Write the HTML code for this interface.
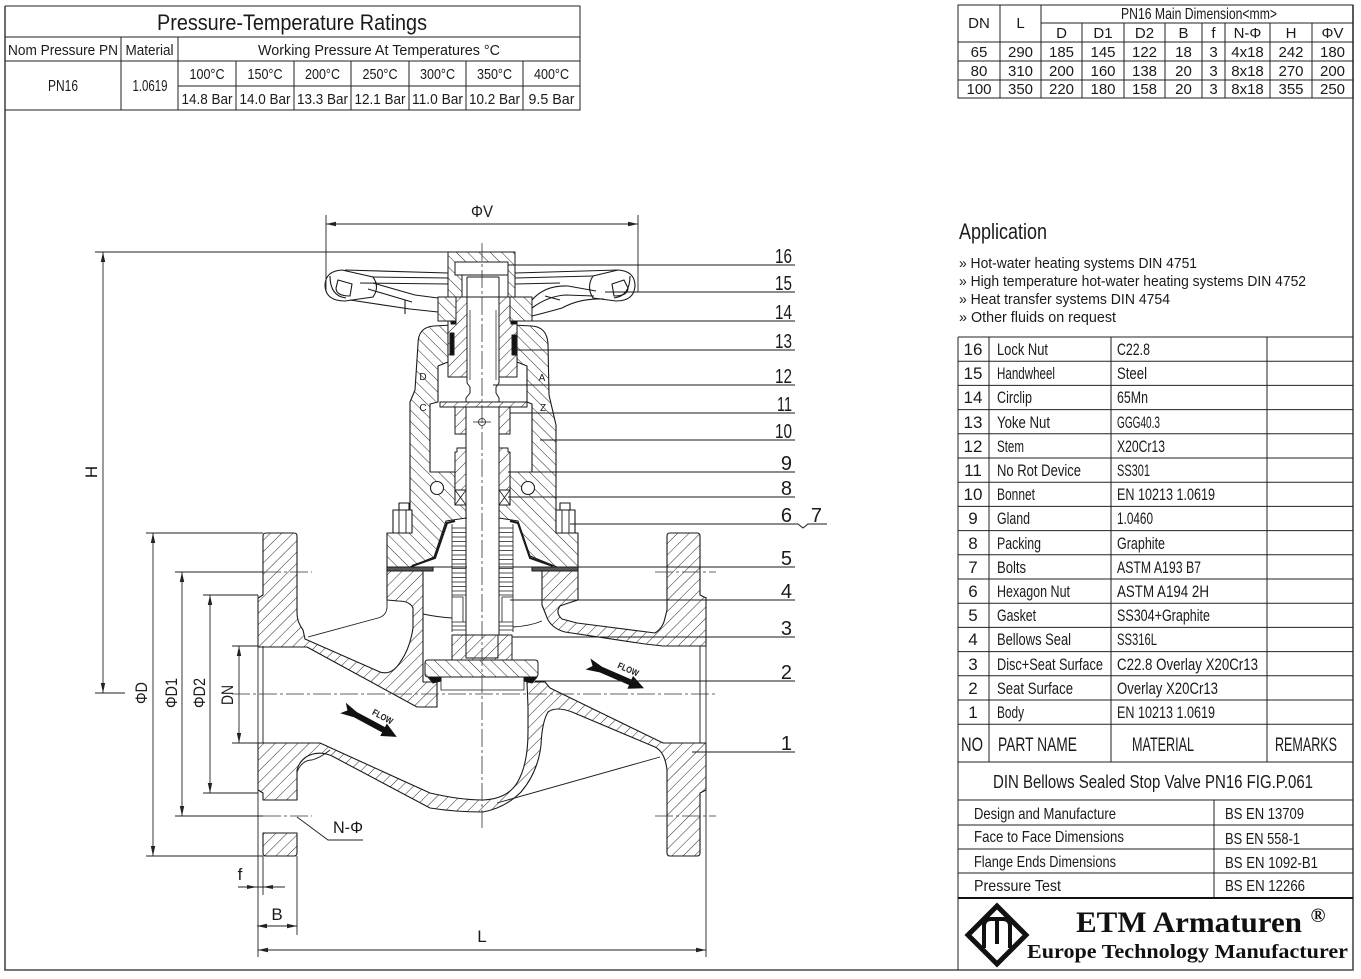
<!DOCTYPE html>
<html><head><meta charset="utf-8">
<style>
html,body{margin:0;padding:0;background:#fff;}
svg{display:block;}
text{font-family:"Liberation Sans",Arial,sans-serif;fill:#1a1a1a;}
.s{font-family:"Liberation Serif",serif;font-weight:bold;fill:#111;}
</style></head><body>
<svg width="1361" height="979" viewBox="0 0 1361 979" xmlns="http://www.w3.org/2000/svg">
<defs>
<pattern id="hf" patternUnits="userSpaceOnUse" width="8" height="8" patternTransform="rotate(45)"><rect width="8" height="8" fill="#fff"/><line x1="0" y1="-1" x2="0" y2="9" stroke="#2a2a2a" stroke-width="1"/></pattern>
<pattern id="hb" patternUnits="userSpaceOnUse" width="8" height="8" patternTransform="rotate(-45)"><rect width="8" height="8" fill="#fff"/><line x1="0" y1="-1" x2="0" y2="9" stroke="#2a2a2a" stroke-width="1"/></pattern>
<marker id="a" viewBox="0 0 10 6" refX="10" refY="3" markerWidth="10" markerHeight="6" markerUnits="userSpaceOnUse" orient="auto-start-reverse"><path d="M0,0.8 L10,3 L0,5.2 Z" fill="#222"/></marker>
</defs>

<!-- ===== FRAME ===== -->
<path d="M5,6 V970 H1353 V5" fill="none" stroke="#4a4a4a" stroke-width="1.6"/>

<!-- ===== PRESSURE TABLE ===== -->
<g stroke="#222" stroke-width="1" fill="none">
<path d="M5,6 H580 V110 H5"/>
<path d="M5,37 H580 M5,61 H580 M178,86 H580"/>
<path d="M121,37 V110 M178,37 V110 M236,61 V110 M294,61 V110 M351,61 V110 M409,61 V110 M466,61 V110 M523,61 V110"/>
</g>
<text x="292" y="30" font-size="22" text-anchor="middle" textLength="270" lengthAdjust="spacingAndGlyphs">Pressure-Temperature Ratings</text>
<g font-size="15" text-anchor="middle">
<text x="63" y="55" textLength="110" lengthAdjust="spacingAndGlyphs">Nom Pressure PN</text>
<text x="149.5" y="55" textLength="48" lengthAdjust="spacingAndGlyphs">Material</text>
<text x="379" y="55" textLength="242" lengthAdjust="spacingAndGlyphs">Working Pressure At Temperatures °C</text>
<text x="63" y="91" font-size="16" textLength="30" lengthAdjust="spacingAndGlyphs">PN16</text>
<text x="150" y="91" font-size="16" textLength="35" lengthAdjust="spacingAndGlyphs">1.0619</text>
<text x="207" y="79" textLength="35" lengthAdjust="spacingAndGlyphs">100°C</text>
<text x="265" y="79" textLength="35" lengthAdjust="spacingAndGlyphs">150°C</text>
<text x="322.5" y="79" textLength="35" lengthAdjust="spacingAndGlyphs">200°C</text>
<text x="380" y="79" textLength="35" lengthAdjust="spacingAndGlyphs">250°C</text>
<text x="437.5" y="79" textLength="35" lengthAdjust="spacingAndGlyphs">300°C</text>
<text x="494.5" y="79" textLength="35" lengthAdjust="spacingAndGlyphs">350°C</text>
<text x="551.5" y="79" textLength="35" lengthAdjust="spacingAndGlyphs">400°C</text>
<text x="207" y="104" textLength="51" lengthAdjust="spacingAndGlyphs">14.8 Bar</text>
<text x="265" y="104" textLength="51" lengthAdjust="spacingAndGlyphs">14.0 Bar</text>
<text x="322.5" y="104" textLength="51" lengthAdjust="spacingAndGlyphs">13.3 Bar</text>
<text x="380" y="104" textLength="51" lengthAdjust="spacingAndGlyphs">12.1 Bar</text>
<text x="437.5" y="104" textLength="51" lengthAdjust="spacingAndGlyphs">11.0 Bar</text>
<text x="494.5" y="104" textLength="51" lengthAdjust="spacingAndGlyphs">10.2 Bar</text>
<text x="551.5" y="104" textLength="46" lengthAdjust="spacingAndGlyphs">9.5 Bar</text>
</g>

<!-- ===== DIMENSION TABLE ===== -->
<g stroke="#222" stroke-width="1" fill="none">
<rect x="958" y="5" width="395" height="93"/>
<path d="M1041,23 H1353 M958,42 H1353 M958,61 H1353 M958,80 H1353"/>
<path d="M1000,5 V98 M1041,5 V98 M1082,23 V98 M1124,23 V98 M1165,23 V98 M1202,23 V98 M1225,23 V98 M1270,23 V98 M1312,23 V98"/>
</g>
<g font-size="15" text-anchor="middle">
<text x="979" y="28">DN</text>
<text x="1020.5" y="28">L</text>
<text x="1199" y="19" font-size="16" textLength="156" lengthAdjust="spacingAndGlyphs">PN16 Main Dimension&lt;mm&gt;</text>
<text x="1061.5" y="38">D</text><text x="1103" y="38">D1</text><text x="1144.5" y="38">D2</text><text x="1183.5" y="38">B</text><text x="1213.5" y="38">f</text><text x="1247.5" y="38">N-Φ</text><text x="1291" y="38">H</text><text x="1332.5" y="38">ΦV</text>
<text x="979" y="57">65</text><text x="1020.5" y="57">290</text><text x="1061.5" y="57">185</text><text x="1103" y="57">145</text><text x="1144.5" y="57">122</text><text x="1183.5" y="57">18</text><text x="1213.5" y="57">3</text><text x="1247.5" y="57">4x18</text><text x="1291" y="57">242</text><text x="1332.5" y="57">180</text>
<text x="979" y="76">80</text><text x="1020.5" y="76">310</text><text x="1061.5" y="76">200</text><text x="1103" y="76">160</text><text x="1144.5" y="76">138</text><text x="1183.5" y="76">20</text><text x="1213.5" y="76">3</text><text x="1247.5" y="76">8x18</text><text x="1291" y="76">270</text><text x="1332.5" y="76">200</text>
<text x="979" y="94">100</text><text x="1020.5" y="94">350</text><text x="1061.5" y="94">220</text><text x="1103" y="94">180</text><text x="1144.5" y="94">158</text><text x="1183.5" y="94">20</text><text x="1213.5" y="94">3</text><text x="1247.5" y="94">8x18</text><text x="1291" y="94">355</text><text x="1332.5" y="94">250</text>
</g>

<!-- ===== APPLICATION ===== -->
<text x="959" y="239" font-size="22" textLength="88" lengthAdjust="spacingAndGlyphs">Application</text>
<g font-size="15">
<text x="959" y="268" textLength="238" lengthAdjust="spacingAndGlyphs">» Hot-water heating systems DIN 4751</text>
<text x="959" y="286" textLength="347" lengthAdjust="spacingAndGlyphs">» High temperature hot-water heating systems DIN 4752</text>
<text x="959" y="304" textLength="211" lengthAdjust="spacingAndGlyphs">» Heat transfer systems DIN 4754</text>
<text x="959" y="322" textLength="157" lengthAdjust="spacingAndGlyphs">» Other fluids on request</text>
</g>

<!-- ===== PARTS TABLE ===== -->
<g stroke="#222" stroke-width="1" fill="none">
<path d="M958,337 H1353 M958,337 V970"/>
<path d="M958,361.2 H1353 M958,385.4 H1353 M958,409.6 H1353 M958,433.8 H1353 M958,458 H1353 M958,482.2 H1353 M958,506.4 H1353 M958,530.6 H1353 M958,554.8 H1353 M958,579 H1353 M958,603.2 H1353 M958,627.4 H1353 M958,651.6 H1353 M958,675.8 H1353 M958,700 H1353 M958,724.2 H1353 M958,762 H1353 M958,800 H1353 M958,825 H1353 M958,849 H1353 M958,873 H1353"/>
<path d="M989,337 V762 M1111,337 V762 M1267,337 V762 M1214,800 V898"/>
</g>
<path d="M958,898 H1353" stroke="#111" stroke-width="2"/>
<g font-size="17">
<g text-anchor="middle">
<text x="973" y="355">16</text><text x="973" y="379">15</text><text x="973" y="403">14</text><text x="973" y="428">13</text><text x="973" y="452">12</text><text x="973" y="476">11</text><text x="973" y="500">10</text><text x="973" y="524">9</text><text x="973" y="549">8</text><text x="973" y="573">7</text><text x="973" y="597">6</text><text x="973" y="621">5</text><text x="973" y="645">4</text><text x="973" y="670">3</text><text x="973" y="694">2</text><text x="973" y="718">1</text>
</g>
<text x="997" y="355" textLength="51" lengthAdjust="spacingAndGlyphs">Lock Nut</text>
<text x="997" y="379" textLength="58" lengthAdjust="spacingAndGlyphs">Handwheel</text>
<text x="997" y="403" textLength="35" lengthAdjust="spacingAndGlyphs">Circlip</text>
<text x="997" y="428" textLength="53" lengthAdjust="spacingAndGlyphs">Yoke Nut</text>
<text x="997" y="452" textLength="27" lengthAdjust="spacingAndGlyphs">Stem</text>
<text x="997" y="476" textLength="84" lengthAdjust="spacingAndGlyphs">No Rot Device</text>
<text x="997" y="500" textLength="38" lengthAdjust="spacingAndGlyphs">Bonnet</text>
<text x="997" y="524" textLength="33" lengthAdjust="spacingAndGlyphs">Gland</text>
<text x="997" y="549" textLength="44" lengthAdjust="spacingAndGlyphs">Packing</text>
<text x="997" y="573" textLength="29" lengthAdjust="spacingAndGlyphs">Bolts</text>
<text x="997" y="597" textLength="73" lengthAdjust="spacingAndGlyphs">Hexagon Nut</text>
<text x="997" y="621" textLength="39" lengthAdjust="spacingAndGlyphs">Gasket</text>
<text x="997" y="645" textLength="74" lengthAdjust="spacingAndGlyphs">Bellows Seal</text>
<text x="997" y="670" textLength="106" lengthAdjust="spacingAndGlyphs">Disc+Seat Surface</text>
<text x="997" y="694" textLength="76" lengthAdjust="spacingAndGlyphs">Seat Surface</text>
<text x="997" y="718" textLength="27" lengthAdjust="spacingAndGlyphs">Body</text>
<text x="1117" y="355" textLength="33" lengthAdjust="spacingAndGlyphs">C22.8</text>
<text x="1117" y="379" textLength="30" lengthAdjust="spacingAndGlyphs">Steel</text>
<text x="1117" y="403" textLength="31" lengthAdjust="spacingAndGlyphs">65Mn</text>
<text x="1117" y="428" textLength="43" lengthAdjust="spacingAndGlyphs">GGG40.3</text>
<text x="1117" y="452" textLength="48" lengthAdjust="spacingAndGlyphs">X20Cr13</text>
<text x="1117" y="476" textLength="33" lengthAdjust="spacingAndGlyphs">SS301</text>
<text x="1117" y="500" textLength="98" lengthAdjust="spacingAndGlyphs">EN 10213 1.0619</text>
<text x="1117" y="524" textLength="36" lengthAdjust="spacingAndGlyphs">1.0460</text>
<text x="1117" y="549" textLength="48" lengthAdjust="spacingAndGlyphs">Graphite</text>
<text x="1117" y="573" textLength="84" lengthAdjust="spacingAndGlyphs">ASTM A193 B7</text>
<text x="1117" y="597" textLength="92" lengthAdjust="spacingAndGlyphs">ASTM A194 2H</text>
<text x="1117" y="621" textLength="93" lengthAdjust="spacingAndGlyphs">SS304+Graphite</text>
<text x="1117" y="645" textLength="40" lengthAdjust="spacingAndGlyphs">SS316L</text>
<text x="1117" y="670" textLength="141" lengthAdjust="spacingAndGlyphs">C22.8 Overlay X20Cr13</text>
<text x="1117" y="694" textLength="101" lengthAdjust="spacingAndGlyphs">Overlay X20Cr13</text>
<text x="1117" y="718" textLength="98" lengthAdjust="spacingAndGlyphs">EN 10213 1.0619</text>
</g>
<g font-size="19">
<text x="961" y="751" textLength="22" lengthAdjust="spacingAndGlyphs">NO</text>
<text x="998" y="751" textLength="79" lengthAdjust="spacingAndGlyphs">PART NAME</text>
<text x="1132" y="751" textLength="62" lengthAdjust="spacingAndGlyphs">MATERIAL</text>
<text x="1275" y="751" textLength="62" lengthAdjust="spacingAndGlyphs">REMARKS</text>
</g>
<text x="993" y="788" font-size="18" textLength="320" lengthAdjust="spacingAndGlyphs">DIN Bellows Sealed Stop Valve PN16 FIG.P.061</text>
<g font-size="16">
<text x="974" y="819" textLength="142" lengthAdjust="spacingAndGlyphs">Design and Manufacture</text>
<text x="974" y="842" textLength="150" lengthAdjust="spacingAndGlyphs">Face to Face Dimensions</text>
<text x="974" y="867" textLength="142" lengthAdjust="spacingAndGlyphs">Flange Ends Dimensions</text>
<text x="974" y="891" textLength="87" lengthAdjust="spacingAndGlyphs">Pressure Test</text>
<text x="1225" y="819" textLength="79" lengthAdjust="spacingAndGlyphs">BS EN 13709</text>
<text x="1225" y="844" textLength="75" lengthAdjust="spacingAndGlyphs">BS EN 558-1</text>
<text x="1225" y="868" textLength="93" lengthAdjust="spacingAndGlyphs">BS EN 1092-B1</text>
<text x="1225" y="891" textLength="80" lengthAdjust="spacingAndGlyphs">BS EN 12266</text>
</g>
<!-- logo -->
<polygon points="997,906 1026,935 997,964 968,935" fill="none" stroke="#111" stroke-width="5"/>
<path d="M984,948 V926 Q984,919 991,919 H1003 Q1010,919 1010,926 V948 M997,919 V944" fill="none" stroke="#111" stroke-width="4"/>
<text class="s" x="1076" y="932" font-size="30" textLength="226" lengthAdjust="spacingAndGlyphs">ETM Armaturen</text>
<text class="s" x="1318" y="922" font-size="20" text-anchor="middle">®</text>
<text class="s" x="1027" y="958" font-size="20" textLength="321" lengthAdjust="spacingAndGlyphs">Europe Technology Manufacturer</text>

<!-- ===== VALVE DRAWING ===== -->
<g stroke="#1a1a1a" stroke-width="1.1" stroke-linejoin="round">
<!-- body -->
<path fill="url(#hf)" d="M258,598 L263,595 L263,536 Q263,533 266,533 L294,533 Q297,533 297,536 L297,613 Q297,622 303,630 L305,639 L380,672 Q392,676 401,661 Q410,648 413,628 L413,608 Q410,601 398,601 L387,600 L387,571 L423,571 L423,682 L437,682 L437,707 L417,707 L307,647 L258,647 Z"/>
<path fill="url(#hf)" d="M258,743 L320,743 L430,793 Q460,800 483,800 Q507,799 517,783 Q528,765 528,732 L528,707 L527,682 L545,682 L550,688 L663,743 L706,743 L706,790 L700,793 L700,853 Q700,856 697,856 L670,856 Q667,856 667,853 L667,770 Q665,752 655,747 L572,712 Q556,706 548,712 Q542,722 541,745 Q538,772 521,792 Q505,808 483,812 Q455,812 430,808 L332,756 Q318,750 306,757 Q299,762 297,770 L297,800 L263,800 L263,793 L258,790 Z"/>
<path fill="url(#hf)" d="M263,833 L297,833 L297,853 Q297,856 294,856 L266,856 Q263,856 263,853 Z"/>
<path fill="url(#hf)" d="M670,533 L697,533 Q700,533 700,536 L700,595 L706,598 L706,646 L663,646 L645,644 L565,632 Q550,628 546,615 L542,605 L542,571 L578,571 L578,600 Q568,603 560,606 Q555,613 562,619 L577,623 L655,633 Q663,628 665,618 L667,610 L667,536 Q667,533 670,533 Z"/>
<!-- bonnet -->
<path fill="url(#hb)" d="M452,325 L434,326 Q418,327 418,344 L415,390 L410,402 L410,533 L387,533 L387,567 L578,567 L578,533 L556,533 L556,425 L549,395 L548,344 Q547,327 532,326 L513,325 Z"/>
<path fill="#fff" d="M448,325 H517 V362 L527,366 V402 L532,404 V472 H510 V505 H499 V518 H466 V505 H455 V472 H430 V404 L438,402 V366 L448,362 Z"/>
<path fill="#fff" d="M466,518 H499 L518,521 L530,556 L557,567 H410 L434,557 L446,521 Z"/>
<circle cx="437" cy="488" r="6.5" fill="#fff"/>
<circle cx="528" cy="488" r="6.5" fill="#fff"/>
<!-- gasket -->
<rect x="387" y="567" width="46" height="4" fill="#555"/>
<rect x="532" y="567" width="46" height="4" fill="#555"/>
<!-- bolts / nuts -->
<rect x="393" y="510" width="19" height="23" fill="#fff"/>
<rect x="399" y="503" width="10" height="7" fill="#fff"/>
<rect x="556" y="510" width="19" height="23" fill="#fff"/>
<rect x="560" y="503" width="10" height="7" fill="#fff"/>
</g>
<g stroke="#1a1a1a" stroke-width="0.9" fill="none">
<path d="M399,510 V533 M406,510 V533 M562,510 V533 M569,510 V533"/>
<!-- cone cover -->
<path d="M412,566 L435,558 L447,523 L455,521 M553,566 L530,558 L518,523 L510,521" stroke-width="2"/>
<!-- silhouettes -->
<path d="M387,600 L387,608 Q386,616 378,618 L308,637"/>
<path d="M497,803 L660,757"/>
<path d="M297,772 Q302,760 312,760 Q320,758 330,750"/>
<path d="M423,614 Q437,617 452,618 M513,627 Q530,626 542,621"/>
<path d="M263,646 V743 M700,646 V743"/>
</g>

<g stroke="#1a1a1a" stroke-width="1" stroke-linejoin="round">
<!-- stem -->
<rect x="467" y="277" width="32" height="359" fill="#fff" stroke="none"/>
<path fill="none" d="M467,277 V383 L470,387 V393 L466,398 V636 M499,277 V383 L496,387 V393 L499,398 V636"/>
<path fill="none" stroke-width="0.7" d="M470,310 V380 M496,310 V380"/>
<!-- lock nut -->
<path fill="url(#hb)" fill-rule="evenodd" d="M448,252 H515 V297 H448 Z M455,262 H508 V297 H462 V275 H455 Z"/>
<path fill="none" d="M467,277 H499 M462,275 H508"/>
<!-- hub -->
<rect x="438" y="297" width="18" height="24" fill="url(#hb)"/>
<rect x="510" y="297" width="22" height="24" fill="url(#hb)"/>
<!-- yoke nut -->
<path fill="url(#hf)" d="M456,297 H467 V377 H448 V321 H456 Z"/>
<path fill="url(#hf)" d="M499,297 H510 V321 H517 V377 H499 Z"/>
<rect x="451" y="321" width="5" height="3" fill="#111"/>
<rect x="511" y="321" width="5" height="3" fill="#111"/>
<rect x="450" y="333" width="4" height="22" fill="#111"/>
<rect x="512" y="335" width="4" height="20" fill="#111"/>
<!-- anti rotation -->
<rect x="440" y="402" width="87" height="5" fill="url(#hf)"/>
<rect x="455" y="407" width="11" height="27" fill="url(#hf)"/>
<rect x="499" y="407" width="11" height="27" fill="url(#hf)"/>
<!-- gland -->
<path fill="url(#hf)" d="M457,448 H466 V490 H455 V452 H457 Z"/>
<path fill="url(#hf)" d="M499,448 H508 V452 H510 V490 H499 Z"/>
<!-- packing -->
<path fill="#fff" d="M455,490 H466 V505 H455 Z M499,490 H510 V505 H499 Z"/>
<path fill="none" stroke-width="0.8" d="M455,490 L466,505 M466,490 L455,505 M499,490 L510,505 M510,490 L499,505"/>
<!-- bellows -->
<path fill="none" stroke-width="0.8" d="M452,524 V632 M466,524 V632 M499,524 V632 M513,524 V632
M452,528 H466 M452,532.5 H466 M452,537 H466 M452,541.5 H466 M452,546 H466 M452,550.5 H466 M452,555 H466 M452,559.5 H466 M452,564 H466 M452,568.5 H466 M452,573 H466 M452,577.5 H466 M452,582 H466 M452,586.5 H466 M452,591 H466 M452,595 H466 M452,622 H466 M452,626 H466 M452,630 H466
M499,528 H513 M499,532.5 H513 M499,537 H513 M499,541.5 H513 M499,546 H513 M499,550.5 H513 M499,555 H513 M499,559.5 H513 M499,564 H513 M499,568.5 H513 M499,573 H513 M499,577.5 H513 M499,582 H513 M499,586.5 H513 M499,591 H513 M499,595 H513 M499,622 H513 M499,626 H513 M499,630 H513
M452,597 H463 V622 M502,597 H513 M502,597 V622"/>
<!-- disc holder -->
<rect x="452" y="635" width="60" height="25" fill="url(#hf)"/>
<rect x="466" y="635" width="32" height="23" fill="url(#hf)"/>
<path d="M428,660 H535 Q538,660 538,663 V674 Q538,677 535,677 H428 Q425,677 425,674 V663 Q425,660 428,660 Z" fill="url(#hb)"/>
<path d="M428,677 L441,677 L441,681 L433,683 Z M524,677 L537,677 L532,683 L524,681 Z" fill="#111"/>
<path fill="none" stroke-width="0.8" d="M441,677 V690 H524 V677"/>
</g>

<!-- bonnet letters & marker -->
<g font-size="10" text-anchor="middle">
<text x="423" y="380">D</text><text x="423" y="411">C</text><text x="542" y="381">A</text><text x="543" y="411">Z</text>
</g>
<g stroke="#1a1a1a" stroke-width="0.8" fill="none">
<circle cx="482" cy="422" r="3.5"/>
<path d="M473,422 H491"/>
</g>

<!-- handwheel -->
<g stroke="#1a1a1a" stroke-width="1.1" fill="none">
<path d="M342,270 Q325,271 325,286 Q326,301 345,301 L373,297 Q380,287 373,277 Z"/>
<path d="M330,276 Q330,296 346,298"/>
<path d="M338,280 L352,284 L350,296 Q336,296 336,288 Z"/>
<path d="M345,270 L448,273 M372,277 L448,278 M360,283 L448,284"/>
<path d="M373,283 L415,295 L438,298 M350,300 L410,309 L438,312 M368,289 L412,302 M405,300 V314"/>
<path d="M618,270 Q635,271 635,286 Q634,301 616,301 L593,298 Q586,287 593,276 Z"/>
<path d="M630,276 Q630,296 614,298"/>
<path d="M624,280 L612,284 L614,296 Q628,296 628,288 Z"/>
<path d="M515,273 L618,270 M515,278 L593,276 M515,284 L560,283"/>
<path d="M532,300 Q545,285 568,286 L596,291 M532,316 Q548,312 562,308 Q580,298 604,299 M532,308 Q548,296 566,295 L594,296 M545,296 L560,300"/>
</g>

<!-- flow arrows -->
<g transform="translate(343,708) rotate(28.2)">
<path d="M0,-6 L14,-3 L46,-3 L46,-7 L61,0 L46,7 L46,3 L14,3 L0,6 L5,0 Z" fill="#111"/>
<text x="28" y="-8" font-size="9" font-weight="bold" textLength="22" lengthAdjust="spacingAndGlyphs">FLOW</text>
</g>
<g transform="translate(588,664) rotate(23.4)">
<path d="M0,-6 L14,-3 L46,-3 L46,-7 L61,0 L46,7 L46,3 L14,3 L0,6 L5,0 Z" fill="#111"/>
<text x="28" y="-8" font-size="9" font-weight="bold" textLength="22" lengthAdjust="spacingAndGlyphs">FLOW</text>
</g>

<!-- centerlines -->
<g stroke="#333" stroke-width="0.8" stroke-dasharray="18 3 3 3" fill="none">
<path d="M482,243 V830"/>
<path d="M232,694 H716"/>
<path d="M263,572 H312 M655,572 H716 M263,816 H312 M655,816 H716"/>
</g>

<!-- dimensions -->
<g stroke="#222" stroke-width="0.9" fill="none">
<path d="M326,215 V292 M638,215 V292"/>
<path d="M326,224 H638" marker-start="url(#a)" marker-end="url(#a)"/>
<path d="M95,252 H448 M95,693 H125"/>
<path d="M103,252 V693" marker-start="url(#a)" marker-end="url(#a)"/>
<path d="M146,533 H263 M175,572 H263 M203,595 H258 M232,646 H258 M232,743 H258 M203,793 H258 M175,816 H263 M146,856 H263"/>
<path d="M153,533 V856" marker-start="url(#a)" marker-end="url(#a)"/>
<path d="M182,572 V816" marker-start="url(#a)" marker-end="url(#a)"/>
<path d="M210,595 V793" marker-start="url(#a)" marker-end="url(#a)"/>
<path d="M239,646 V743" marker-start="url(#a)" marker-end="url(#a)"/>
<path d="M258,595 V957 M706,597 V957 M263,856 V895 M297,856 V935"/>
<path d="M238,887 H285"/>
<path d="M257,926 H297" marker-start="url(#a)" marker-end="url(#a)"/>
<path d="M258,950 H706" marker-start="url(#a)" marker-end="url(#a)"/>
<path d="M297,817 L328,840 H363"/>
</g>
<path d="M247,885 L257,887 L247,889 Z M273,885 L263,887 L273,889 Z" fill="#222"/>

<g font-size="17" text-anchor="middle">
<text x="482" y="217" textLength="22" lengthAdjust="spacingAndGlyphs">ΦV</text>
<text transform="translate(97,472) rotate(-90)">H</text>
<text transform="translate(147,693) rotate(-90)" textLength="22" lengthAdjust="spacingAndGlyphs">ΦD</text>
<text transform="translate(177,693) rotate(-90)" textLength="30" lengthAdjust="spacingAndGlyphs">ΦD1</text>
<text transform="translate(205,693) rotate(-90)" textLength="30" lengthAdjust="spacingAndGlyphs">ΦD2</text>
<text transform="translate(233,695) rotate(-90)" textLength="20" lengthAdjust="spacingAndGlyphs">DN</text>
<text x="240" y="880">f</text>
<text x="277" y="920">B</text>
<text x="482" y="942">L</text>
<text x="348" y="833" textLength="30" lengthAdjust="spacingAndGlyphs">N-Φ</text>
</g>

<!-- leader lines -->
<g stroke="#1a1a1a" stroke-width="1" fill="none">
<path d="M508,265 H795 M605,292 H795 M513,321 H795 M513,350 H795 M493,385 H795 M510,413 H795 M540,440 H795 M508,472 H795 M508,497 H795 M557,567 H795 M510,600 H795 M512,637 H795 M535,681 H795 M692,752 H795"/>
<path d="M570,524 H798 L803,528 L808,524 H827"/>
</g>
<g font-size="20" text-anchor="end">
<text x="792" y="263" textLength="17" lengthAdjust="spacingAndGlyphs">16</text>
<text x="792" y="290" textLength="17" lengthAdjust="spacingAndGlyphs">15</text>
<text x="792" y="319" textLength="17" lengthAdjust="spacingAndGlyphs">14</text>
<text x="792" y="348" textLength="17" lengthAdjust="spacingAndGlyphs">13</text>
<text x="792" y="383" textLength="17" lengthAdjust="spacingAndGlyphs">12</text>
<text x="792" y="411" textLength="15" lengthAdjust="spacingAndGlyphs">11</text>
<text x="792" y="438" textLength="17" lengthAdjust="spacingAndGlyphs">10</text>
<text x="792" y="470">9</text>
<text x="792" y="495">8</text>
<text x="792" y="522">6</text>
<text x="822" y="522">7</text>
<text x="792" y="565">5</text>
<text x="792" y="598">4</text>
<text x="792" y="635">3</text>
<text x="792" y="679">2</text>
<text x="792" y="750">1</text>
</g>
</svg>
</body></html>
